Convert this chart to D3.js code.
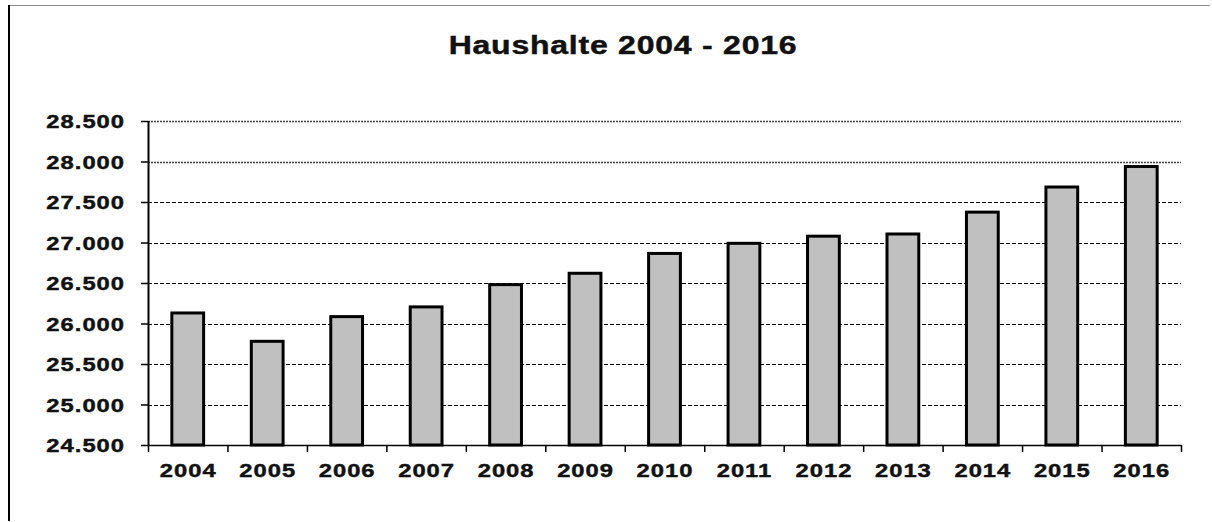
<!DOCTYPE html>
<html>
<head>
<meta charset="utf-8">
<script src="https://cdn.jsdelivr.net/npm/d3@7"></script>
<style>
  body { margin: 0; background: #fff; }
  svg { display: block; font-family: "Liberation Sans", Arial, sans-serif; }
  .lbl { font-weight: bold; fill: #111; stroke: #111; stroke-width: 0.45px; }
</style>
</head>
<body>
<svg id="chart" width="1212" height="522"></svg>
<script>
// Households per year
const years = ["2004", "2005", "2006", "2007", "2008", "2009", "2010",
               "2011", "2012", "2013", "2014", "2015", "2016"];
const households = [26130, 25780, 26085, 26205, 26480, 26620, 26865,
                    26990, 27078, 27105, 27375, 27685, 27938];
const yTicks = [24500, 25000, 25500, 26000, 26500, 27000, 27500, 28000, 28500];
const titleText = "Haushalte 2004 - 2016";

const svg = d3.select("#chart");
const plot = { left: 148, right: 1181, top: 121, bottom: 445 };

// the source picture's text is stretched sideways
const stretch = 1.25;

// frame lines of the original picture
svg.append("line")
    .attr("x1", 8).attr("x2", 1210).attr("y1", 5.5).attr("y2", 5.5)
    .attr("stroke", "#8c8c8c").attr("stroke-width", 1);
svg.append("line")
    .attr("x1", 9).attr("x2", 9).attr("y1", 5).attr("y2", 521)
    .attr("stroke", "#000").attr("stroke-width", 2);

const x = d3.scaleBand()
    .domain(years)
    .range([plot.left, plot.right])
    .paddingInner(0.6)
    .paddingOuter(0.3);

const y = d3.scaleLinear()
    .domain([24500, 28500])
    .range([plot.bottom, plot.top]);

const deFormat = d3.formatLocale({ decimal: ",", thousands: ".", grouping: [3], currency: ["", "€"] })
    .format(",");

// gridlines
svg.append("g")
    .selectAll("line")
    .data(yTicks.slice(1))
    .join("line")
    .attr("x1", plot.left).attr("x2", plot.right)
    .attr("y1", d => Math.round(y(d)) + 0.5).attr("y2", d => Math.round(y(d)) + 0.5)
    .attr("stroke", d => d >= 28000 ? "#444" : "#000")
    .attr("stroke-width", d => d >= 28000 ? 1.6 : 1)
    .attr("stroke-dasharray", d => d >= 28000 ? "2,1" : "4,2");

// bars
svg.append("g")
    .selectAll("rect")
    .data(households)
    .join("rect")
    .attr("x", (d, i) => x(years[i]))
    .attr("width", x.bandwidth())
    .attr("y", d => y(d))
    .attr("height", d => plot.bottom - y(d))
    .attr("fill", "#c0c0c0")
    .attr("stroke", "#000")
    .attr("stroke-width", 3);

// y axis
const yAxis = svg.append("g")
    .attr("transform", `translate(${plot.left},0)`)
    .call(d3.axisLeft(y).tickValues(yTicks).tickSize(7).tickFormat(""));
yAxis.select(".domain").attr("stroke-width", 2).attr("d", `M0.5,${plot.top}V${plot.bottom}`);
yAxis.selectAll(".tick line").attr("stroke-width", 1.5);

svg.append("g")
    .selectAll("g")
    .data(yTicks)
    .join("g")
    .attr("transform", d => `translate(124,${y(d) + 7}) scale(${stretch},1)`)
    .append("text")
    .attr("class", "lbl")
    .attr("text-anchor", "end")
    .attr("font-size", 19)
    .attr("letter-spacing", "0.8px")
    .attr("dx", "0.8px")
    .text(d => deFormat(d));

// x axis with ticks between categories
const step = x.step();
const xAxis = svg.append("g");
xAxis.append("line")
    .attr("x1", plot.left).attr("x2", plot.right)
    .attr("y1", plot.bottom + 0.5).attr("y2", plot.bottom + 0.5)
    .attr("stroke", "#000").attr("stroke-width", 1.5);
xAxis.selectAll(".sep")
    .data(d3.range(years.length + 1))
    .join("line")
    .attr("class", "sep")
    .attr("x1", i => plot.left + i * step + 0.5).attr("x2", i => plot.left + i * step + 0.5)
    .attr("y1", plot.bottom).attr("y2", plot.bottom + 7)
    .attr("stroke", "#000").attr("stroke-width", 1.5);
xAxis.selectAll("g.xl")
    .data(years)
    .join("g")
    .attr("class", "xl")
    .attr("transform", d => `translate(${x(d) + x.bandwidth() / 2 + 0.5},477) scale(${stretch},1)`)
    .append("text")
    .attr("class", "lbl")
    .attr("text-anchor", "middle")
    .attr("font-size", 19)
    .attr("letter-spacing", "0.8px")
    .text(d => d);

// title
svg.append("g")
    .attr("transform", `translate(623,54) scale(1.28,1)`)
    .append("text")
    .attr("class", "lbl")
    .attr("text-anchor", "middle")
    .attr("font-size", 25)
    .attr("letter-spacing", "0.6px")
    .text(titleText);
</script>
</body>
</html>
